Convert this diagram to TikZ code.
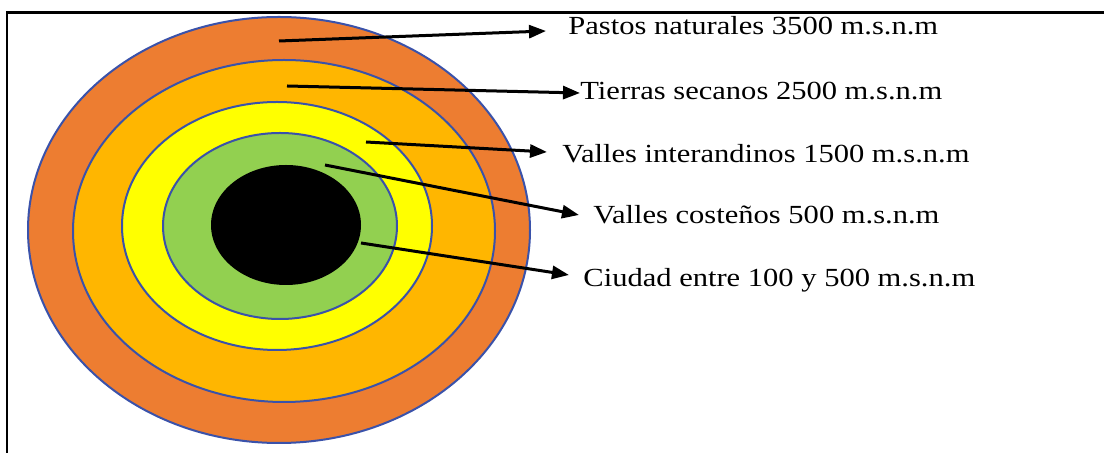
\documentclass[tikz,border=0pt]{standalone}
\usepackage{fontspec}
\setmainfont{Liberation Serif}
\usetikzlibrary{shapes.geometric,arrows.meta}
\definecolor{ringorange}{RGB}{237,125,49}
\definecolor{ringgold}{RGB}{255,182,0}
\definecolor{ringyellow}{RGB}{255,255,0}
\definecolor{ringgreen}{RGB}{146,208,80}
\definecolor{ringline}{RGB}{58,82,170}
\tikzset{
  ring/.style={ellipse, draw=ringline, line width=1pt, inner sep=0pt, outer sep=0pt},
  lbl/.style={anchor=base west, inner sep=0pt, font=\fontsize{13.05pt}{15pt}\selectfont},
  arr/.style={-{Triangle[length=8.5pt,width=6.5pt]}, line width=1.5pt, black},
}
\newcommand{\wide}[1]{\scalebox{1.17}[1]{#1}}
\begin{document}
\begin{tikzpicture}[x=0.5pt,y=-0.5pt]
\useasboundingbox (0,0) rectangle (1104,453);
\fill[white] (0,0) rectangle (1104,453);
% frame
\draw[line width=1.3pt] (7,453) -- (7,12.5) -- (1104,12.5);
% rings
\node[ring, fill=ringorange, minimum width=251pt, minimum height=213pt] (e1) at (279,230) {};
\node[ring, fill=ringgold, minimum width=211pt, minimum height=171pt] (e2) at (284,231) {};
\node[ring, fill=ringyellow, minimum width=155pt, minimum height=124pt] (e3) at (277,226) {};
\node[ring, fill=ringgreen, minimum width=117pt, minimum height=93pt] (e4) at (280,226) {};
\node[ellipse, fill=black, inner sep=0pt, minimum width=75pt, minimum height=60pt] (e5) at (286,225) {};
% labels
\node[lbl] (t1) at (568,35) {\wide{Pastos naturales 3500 m.s.n.m}};
\node[lbl] (t2) at (580,99.3) {\wide{Tierras secanos 2500 m.s.n.m}};
\node[lbl] (t3) at (562,162.7) {\wide{Valles interandinos 1500 m.s.n.m}};
\node[lbl] (t4) at (593,224) {\wide{Valles coste\~nos 500 m.s.n.m}};
\node[lbl] (t5) at (583,287) {\wide{Ciudad entre 100 y 500 m.s.n.m}};
% arrow anchors
\coordinate (s1) at (279,41);
\coordinate (s2) at (287,86);
\coordinate (s3) at (366,142);
\coordinate (s4) at (325,165);
\coordinate (s5) at (361,243);
\coordinate (h1) at (546,31);
\coordinate (h2) at (580,93);
\coordinate (h3) at (547,152);
\coordinate (h4) at (579,215);
\coordinate (h5) at (569,275);
\draw[arr] (s1) -- (h1);
\draw[arr] (s2) -- (h2);
\draw[arr] (s3) -- (h3);
\draw[arr] (s4) -- (h4);
\draw[arr] (s5) -- (h5);
\end{tikzpicture}
\end{document}
